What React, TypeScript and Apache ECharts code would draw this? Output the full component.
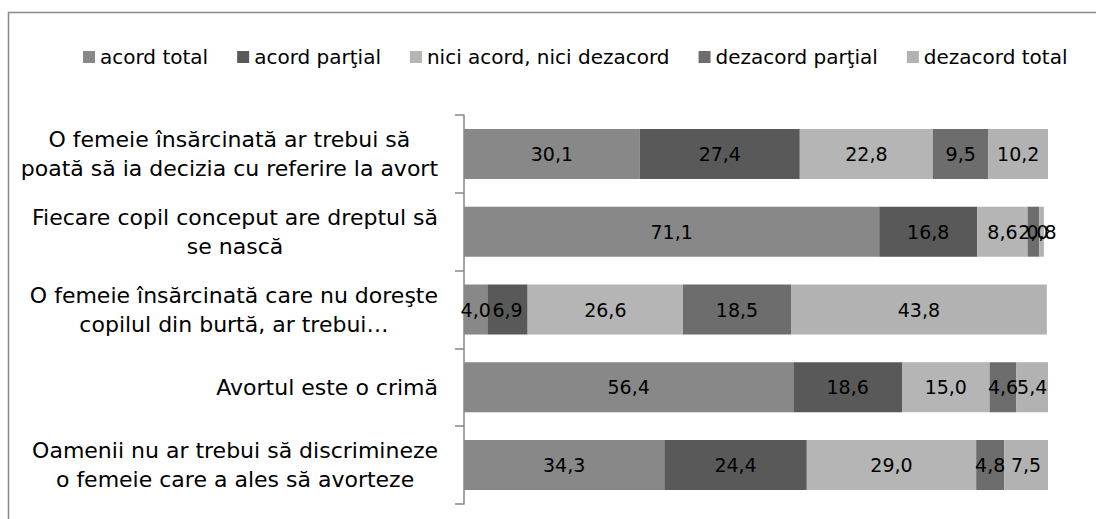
import React, { useEffect, useRef } from "react";
import * as echarts from "echarts";

const categories = [
  "O femeie însărcinată ar trebui să\npoată să ia decizia cu referire la avort",
  "Fiecare copil conceput are dreptul să\nse nască",
  "O femeie însărcinată care nu doreşte\ncopilul din burtă, ar trebui…",
  "Avortul este o crimă",
  "Oamenii nu ar trebui să discrimineze\no femeie care a ales să avorteze",
];

const seriesNames = [
  "acord total",
  "acord parţial",
  "nici acord, nici dezacord",
  "dezacord parţial",
  "dezacord total",
];

const acordTotal = [30.1, 71.1, 4.0, 56.4, 34.3];
const acordPartial = [27.4, 16.8, 6.9, 18.6, 24.4];
const niciAcord = [22.8, 8.6, 26.6, 15.0, 29.0];
const dezacordPartial = [9.5, 2.0, 18.5, 4.6, 4.8];
const dezacordTotal = [10.2, 0.8, 43.8, 5.4, 7.5];

const seriesValues = [acordTotal, acordPartial, niciAcord, dezacordPartial, dezacordTotal];
const colors = ["#888888", "#595959", "#b5b5b5", "#6d6d6d", "#b2b2b2"];

export default function App() {
  const ref = useRef<HTMLDivElement>(null);
  useEffect(() => {
    if (!ref.current) return;
    const chart = echarts.init(ref.current, undefined, { renderer: "svg" });
    chart.setOption({
      animation: false,
      backgroundColor: "#ffffff",
      color: colors,
      graphic: [
        {
          type: "rect",
          shape: { x: 8.5, y: 12.5, width: 1100, height: 520 },
          style: { fill: "none", stroke: "#8a8a8a", lineWidth: 1.5 },
          silent: true,
        },
      ],
      legend: {
        left: 78,
        top: 42,
        itemWidth: 12,
        itemHeight: 12,
        itemGap: 29,
        icon: "rect",
        textStyle: { fontFamily: "DejaVu Sans", fontSize: 20, color: "#000" },
        data: seriesNames,
      },
      grid: { left: 464, right: 48, top: 115, bottom: 15, containLabel: false },
      xAxis: {
        type: "value",
        min: 0,
        max: 100,
        show: false,
        splitLine: { show: false },
      },
      yAxis: {
        type: "category",
        inverse: true,
        data: categories,
        axisLine: { show: true, lineStyle: { color: "#868686", width: 1.5 } },
        axisTick: { show: true, length: 9, inside: false, lineStyle: { color: "#868686", width: 1.5 } },
        axisLabel: {
          margin: 26,
          align: "right",
          color: "#000",
          fontFamily: "DejaVu Sans",
          fontSize: 22,
          lineHeight: 29,
          formatter: (v: string) =>
            v
              .split("\n")
              .map((l) => "{c|" + l + "}")
              .join("\n"),
          rich: {
            c: {
              align: "center",
              fontFamily: "DejaVu Sans",
              fontSize: 22,
              lineHeight: 29,
              color: "#000",
            },
          },
        },
      },
      series: seriesNames.map((name, i) => ({
        name,
        type: "bar",
        stack: "total",
        barWidth: 50,
        data: seriesValues[i],
        itemStyle: { color: colors[i] },
        label: {
          show: true,
          position: "inside",
          color: "#000",
          fontFamily: "DejaVu Sans",
          fontSize: 19,
          formatter: (p: any) => Number(p.value).toFixed(1).replace(".", ","),
        },
      })),
    });
    return () => chart.dispose();
  }, []);
  return (
    <div
      ref={ref}
      style={{ position: "absolute", left: 0, top: 0, width: 1096, height: 519 }}
    />
  );
}
